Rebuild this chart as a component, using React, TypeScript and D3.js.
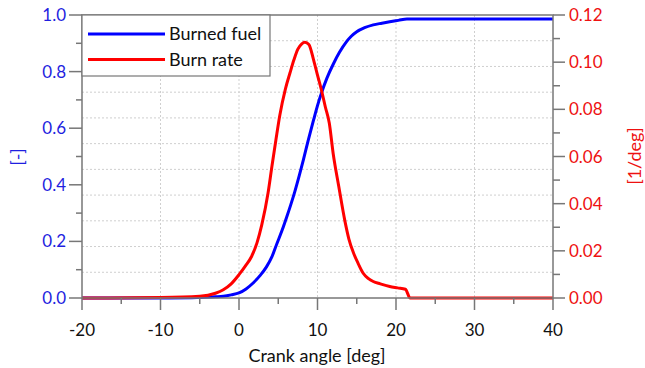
import React from "react";
import * as d3 from "d3";

const crankAngle = [-20, -10, -5, -3, -2, -1, 0, 0.8, 1.6, 2.3, 2.9, 3.7, 4.2, 4.7, 5.2, 5.9, 6.5, 7.0, 7.5, 8.0, 8.4, 8.9, 9.5, 10.0, 10.5, 11.0, 11.5, 12.0, 12.7, 13.5, 14.0, 14.6, 15.2, 15.8, 16.5, 17.1, 18.0, 19.2, 20.2, 21.2, 21.8, 22.5, 30, 40];
const burnRate = [0, 0.0002, 0.0007, 0.002, 0.0035, 0.006, 0.0099, 0.0135, 0.0176, 0.0235, 0.031, 0.0445, 0.056, 0.067, 0.0775, 0.0885, 0.0955, 0.101, 0.1055, 0.1078, 0.1084, 0.1075, 0.101, 0.0945, 0.0882, 0.081, 0.0742, 0.0612, 0.0475, 0.0325, 0.025, 0.019, 0.0145, 0.0106, 0.0082, 0.007, 0.006, 0.0049, 0.0043, 0.0037, 0.0, 0.0, 0.0, 0.0];

const fuelAngle = [-20, -10, -6, -5, -3, -2, -1, 0, 0.9, 1.8, 2.7, 3.5, 4.2, 4.8, 5.5, 6.1, 6.6, 7.1, 7.7, 8.2, 8.8, 9.5, 10.0, 10.5, 11.2, 12.0, 12.8, 13.7, 14.3, 15.0, 16.0, 17.1, 18.2, 19.2, 20.3, 21.4, 30, 40];
const burnedFuel = [0, 0, 0.001, 0.002, 0.004, 0.006, 0.011, 0.018, 0.032, 0.053, 0.08, 0.11, 0.146, 0.19, 0.24, 0.288, 0.33, 0.375, 0.435, 0.488, 0.555, 0.629, 0.68, 0.724, 0.777, 0.826, 0.868, 0.906, 0.925, 0.941, 0.955, 0.965, 0.971, 0.976, 0.981, 0.986, 0.986, 0.986];

const xTicks = [-20, -10, 0, 10, 20, 30, 40];
const xMinorTicks = [-15, -5, 5, 15, 25, 35];
const leftTicks = [0, 0.2, 0.4, 0.6, 0.8, 1.0];
const leftMinorTicks = [0.1, 0.3, 0.5, 0.7, 0.9];
const rightTicks = [0, 0.02, 0.04, 0.06, 0.08, 0.1, 0.12];
const rightMinorTicks = [0.01, 0.03, 0.05, 0.07, 0.09, 0.11];
const hGridFractions = [1, 2, 3, 4, 5, 6, 7, 8, 9, 10].map((i) => i / 11);
const vGrid = [-10, 0, 10, 20, 30];

const seriesNames = ["Burned fuel", "Burn rate"];

const BLUE = "#0000ff";
const RED = "#ff0000";
const BLUE_TEXT = "#1f1fe0";
const RED_TEXT = "#ee1111";
const AXIS = "#777777";
const FONT = "Lato, 'Open Sans', sans-serif";

export default function App() {
  const W = 645, H = 368;
  const L = 82, R = 553, T = 15, B = 298;
  const x = d3.scaleLinear().domain([-20, 40]).range([L, R]);
  const yL = d3.scaleLinear().domain([0, 1]).range([B, T]);
  const yR = d3.scaleLinear().domain([0, 0.12]).range([B, T]);

  const fuelLine = d3.line<number>()
    .x((_, i) => x(fuelAngle[i]))
    .y((d) => yL(d))
    .curve(d3.curveMonotoneX);
  const rateLine = d3.line<number>()
    .x((_, i) => x(crankAngle[i]))
    .y((d) => yR(d))
    .curve(d3.curveMonotoneX);

  const fmt1 = d3.format(".1f");
  const fmt2 = d3.format(".2f");

  return (
    <svg width={W} height={H} style={{ position: "absolute", left: 0, top: 0, background: "#fff" }} fontFamily={FONT}>
      <rect x={0} y={0} width={W} height={H} fill="#fff" />
      {/* grid */}
      {hGridFractions.map((f, i) => (
        <line key={"hg" + i} x1={L} x2={R} y1={yL(f)} y2={yL(f)} stroke="#cfcfcf" strokeWidth={1} strokeDasharray="2,2" />
      ))}
      {vGrid.map((v) => (
        <line key={"vg" + v} x1={x(v)} x2={x(v)} y1={T} y2={B} stroke="#cfcfcf" strokeWidth={1} strokeDasharray="2,2" />
      ))}

      {/* curves */}
      <path d={fuelLine(burnedFuel) || ""} fill="none" stroke={BLUE} strokeWidth={3} strokeLinejoin="round" />
      <path d={rateLine(burnRate) || ""} fill="none" stroke={RED} strokeWidth={3} strokeLinejoin="round" />

      {/* frame */}
      <rect x={L} y={T} width={R - L} height={B - T} fill="none" stroke={AXIS} strokeWidth={1.5} />

      {/* x ticks */}
      {xTicks.map((v) => (
        <g key={"xt" + v}>
          <line x1={x(v)} x2={x(v)} y1={B} y2={B + 12} stroke={AXIS} strokeWidth={1.5} />
          <text x={x(v)} y={336} textAnchor="middle" fontSize={17} fill="#111">{v}</text>
        </g>
      ))}
      {xMinorTicks.map((v) => (
        <line key={"xm" + v} x1={x(v)} x2={x(v)} y1={B} y2={B + 6} stroke={AXIS} strokeWidth={1.5} />
      ))}

      {/* left ticks */}
      {leftTicks.map((v) => (
        <g key={"lt" + v}>
          <line x1={L - 13} x2={L} y1={yL(v)} y2={yL(v)} stroke={AXIS} strokeWidth={1.5} />
          <text x={66} y={yL(v) + 6} textAnchor="end" fontSize={17} fill={BLUE_TEXT}>{fmt1(v)}</text>
        </g>
      ))}
      {leftMinorTicks.map((v) => (
        <line key={"lm" + v} x1={L - 6} x2={L} y1={yL(v)} y2={yL(v)} stroke={AXIS} strokeWidth={1.5} />
      ))}

      {/* right ticks */}
      {rightTicks.map((v) => (
        <g key={"rt" + v}>
          <line x1={R} x2={R + 12} y1={yR(v)} y2={yR(v)} stroke={AXIS} strokeWidth={1.5} />
          <text x={569} y={yR(v) + 6} textAnchor="start" fontSize={17} fill={RED_TEXT}>{fmt2(v)}</text>
        </g>
      ))}
      {rightMinorTicks.map((v) => (
        <line key={"rm" + v} x1={R} x2={R + 7} y1={yR(v)} y2={yR(v)} stroke={AXIS} strokeWidth={1.5} />
      ))}

      {/* axis titles */}
      <text x={317} y={362} textAnchor="middle" fontSize={18} fill="#111">Crank angle [deg]</text>
      <text transform="translate(24,157) rotate(-90)" textAnchor="middle" fontSize={18} fill={BLUE_TEXT}>[-]</text>
      <text transform="translate(641,156) rotate(-90)" textAnchor="middle" fontSize={18} fill={RED_TEXT}>[1/deg]</text>

      {/* legend */}
      <rect x={L} y={T} width={188} height={61} fill="#fff" stroke={AXIS} strokeWidth={1.2} />
      {seriesNames.map((n, i) => (
        <g key={n}>
          <line x1={88} x2={165} y1={34 + i * 25.5} y2={34 + i * 25.5} stroke={i === 0 ? BLUE : RED} strokeWidth={3} />
          <text x={169} y={40 + i * 25.5} fontSize={18} fill="#111">{n}</text>
        </g>
      ))}
    </svg>
  );
}
